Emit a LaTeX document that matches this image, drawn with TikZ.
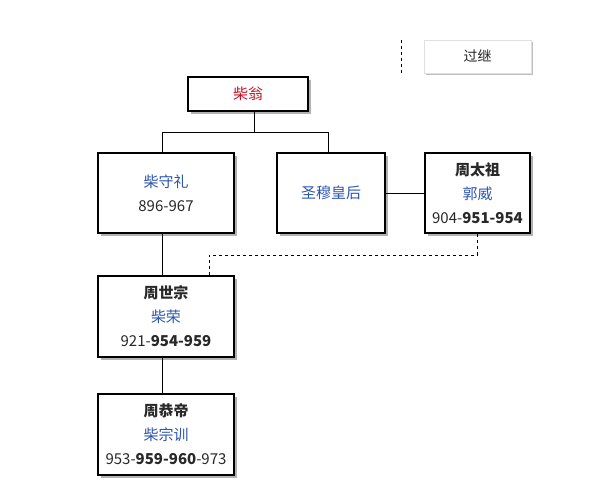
\documentclass[tikz,border=0pt]{standalone}
\usepackage{fontspec}
\setmainfont{Noto Sans CJK SC}
\usetikzlibrary{shadows}
\definecolor{crimson}{RGB}{200,20,40}
\definecolor{nameblue}{RGB}{45,85,175}
\definecolor{yeargray}{RGB}{40,40,40}
\begin{document}
\begin{tikzpicture}[
    x=1pt, y=-1pt,
    line width=0.9pt,
    every node/.style={font=\fontsize{15}{24}\selectfont, align=center, text=yeargray},
    person/.style={draw=black, line width=2.2pt, fill=white, inner sep=0pt,
      drop shadow={shadow xshift=2.5pt, shadow yshift=-2.5pt, opacity=0.3, fill=black}},
    legend/.style={draw=black!12, line width=0.5pt, fill=white, inner sep=0pt,
      minimum width=107pt, minimum height=33pt,
      drop shadow={shadow xshift=2pt, shadow yshift=-2pt, opacity=0.25, fill=black}}
]
  \useasboundingbox (0,0) rectangle (590,504);

  %--- exact positions ---
  \node[person, minimum width=120pt, minimum height=34pt] (weng) at (248,94)
    {\textcolor{crimson}{柴翁}};
  \node[person, minimum width=136pt, minimum height=80pt] (shouli) at (166,193)
    {\textcolor{nameblue}{柴守礼}\\896-967};
  \node[person, minimum width=108pt, minimum height=80pt] (hou) at (331,193)
    {\textcolor{nameblue}{圣穆皇后}};
  \node[person, minimum width=105pt, minimum height=80pt] (taizu) at (477.5,193)
    {\textbf{周太祖}\\\textcolor{nameblue}{郭威}\\904-\textbf{951-954}};
  \node[person, minimum width=136pt, minimum height=81pt] (shizong) at (166,316.5)
    {\textbf{周世宗}\\\textcolor{nameblue}{柴荣}\\921-\textbf{954-959}};
  \node[person, minimum width=136pt, minimum height=81pt] (gongdi) at (166,434.5)
    {\textbf{周恭帝}\\\textcolor{nameblue}{柴宗训}\\953-\textbf{959-960}-973};
  \node[legend] (guoji) at (477.5,56.5) {\fontsize{14}{16}\selectfont 过继};  % legend

  %--- edges ---
  \draw ([xshift=6]weng.south) -- ++(0,20) coordinate (fork);
  \draw ([xshift=-4]shouli.north) |- (fork) -| ([xshift=-3]hou.north);
  \draw (hou.east) -- (taizu.west);
  \draw ([xshift=-4]shouli.south) -- ([xshift=-4]shizong.north);
  \draw[dashed] ([xshift=-0.5]taizu.south) -- ++(0,21) -| ([xshift=43]shizong.north);
  \draw ([xshift=-4]shizong.south) -- ([xshift=-4]gongdi.north);
  \draw[dashed] ([xshift=-22]guoji.north west) -- ([xshift=-22]guoji.south west);
\end{tikzpicture}
\end{document}
